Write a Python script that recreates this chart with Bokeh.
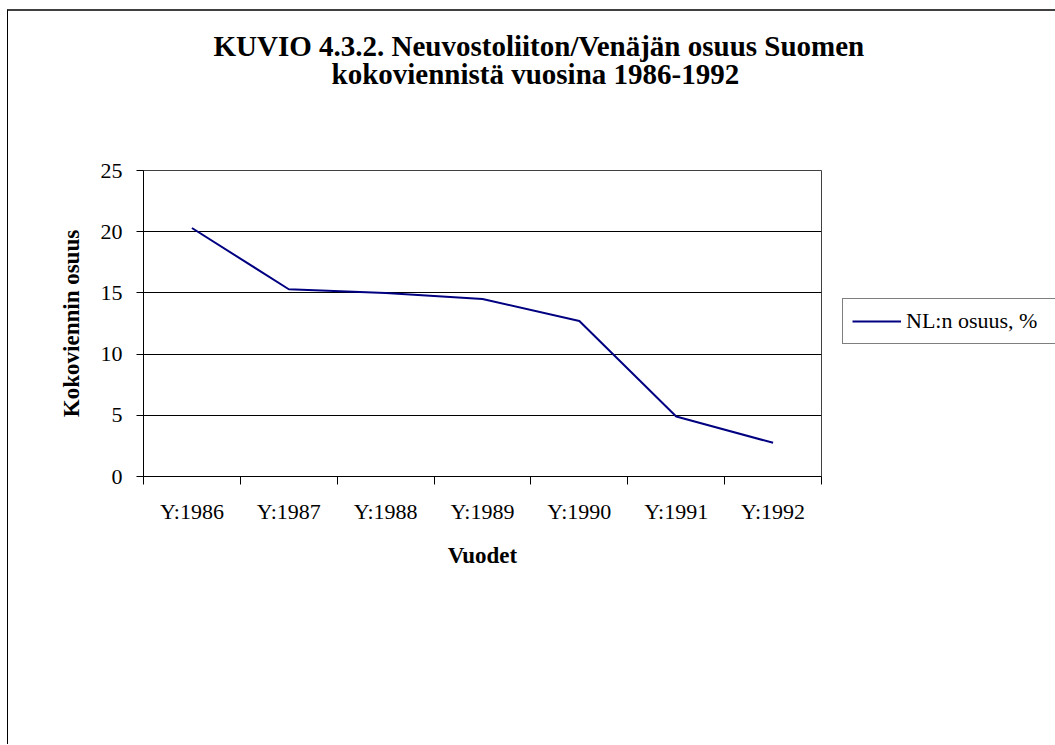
from bokeh.plotting import figure
from bokeh.models import (Range1d, FixedTicker, Title, Legend, LegendItem)
from bokeh.embed import file_html
from bokeh.resources import INLINE

# ---- data ----
years = ["Y:1986", "Y:1987", "Y:1988", "Y:1989", "Y:1990", "Y:1991", "Y:1992"]
share = [20.3, 15.3, 15.0, 14.5, 12.7, 4.9, 2.75]
y_ticks = [0, 5, 10, 15, 20, 25]
title_lines = ["KUVIO 4.3.2. Neuvostoliiton/Venäjän osuus Suomen",
               "kokoviennistä vuosina 1986-1992"]
x_title = "Vuodet"
y_title = "Kokoviennin osuus"
series_name = "NL:n osuus, %"

FONT = "Liberation Serif"

# category slots: centre of each category on a 0..N numeric axis
x_pos = [i + 0.5 for i in range(len(years))]

p = figure(frame_width=678, frame_height=306,
           output_backend="svg", toolbar_location=None,
           x_range=Range1d(0, len(years)), y_range=Range1d(0, 25),
           min_border_left=135, min_border_top=159,
           min_border_right=234, min_border_bottom=268)
p.styles = {"margin-left": "7px", "margin-top": "9px",
            "border-top": "2px solid #404040", "border-left": "1px solid #000000"}
p.background_fill_color = "white"
p.border_fill_color = "white"
p.outline_line_color = "#404040"
p.outline_line_width = 1

line = p.line(x_pos, share, line_color="#000080", line_width=2)

# x axis: labels at category centres, ticks at category boundaries
xa = p.xaxis[0]
xa.ticker = FixedTicker(ticks=x_pos, minor_ticks=list(range(len(years) + 1)))
xa.major_label_overrides = {x: y for x, y in zip(x_pos, years)}
xa.major_tick_out = 0
xa.major_tick_in = 0
xa.minor_tick_out = 8
xa.minor_tick_in = 0
xa.minor_tick_line_color = "black"
xa.axis_line_color = "black"
xa.major_label_text_font = FONT
xa.major_label_text_font_size = "22px"
xa.major_label_text_color = "black"
xa.major_label_standoff = 14
xa.axis_label = x_title
xa.axis_label_text_font = FONT
xa.axis_label_text_font_size = "23px"
xa.axis_label_text_font_style = "bold"
xa.axis_label_text_color = "black"
xa.axis_label_standoff = 16

ya = p.yaxis[0]
ya.ticker = FixedTicker(ticks=y_ticks)
ya.major_tick_out = 7
ya.major_tick_in = 0
ya.minor_tick_out = 0
ya.minor_tick_in = 0
ya.major_tick_line_color = "black"
ya.axis_line_color = "black"
ya.major_label_text_font = FONT
ya.major_label_text_font_size = "22px"
ya.major_label_text_color = "black"
ya.major_label_standoff = 14
ya.axis_label = y_title
ya.axis_label_text_font = FONT
ya.axis_label_text_font_size = "23px"
ya.axis_label_text_font_style = "bold"
ya.axis_label_text_color = "black"
ya.axis_label_standoff = 14

p.xgrid.grid_line_color = None
p.ygrid.ticker = FixedTicker(ticks=y_ticks)
p.ygrid.grid_line_color = "black"
p.ygrid.grid_line_width = 1

# title block: spacer nearest the frame, then line 2, then line 1
title_style = dict(text_font=FONT, text_font_size="29px",
                   text_font_style="bold", text_color="black")
p.add_layout(Title(text=" ", align="left", standoff=47, **title_style), "above")
p.add_layout(Title(text=title_lines[1], align="left", offset=188, standoff=0,
                   **title_style), "above")
p.add_layout(Title(text=title_lines[0], align="left", offset=70, standoff=-13,
                   **title_style), "above")

legend = Legend(items=[LegendItem(label=series_name, renderers=[line])],
                location=(21, 132), margin=0, padding=9, spacing=0,
                glyph_width=49, glyph_height=24, label_height=24,
                label_standoff=5, label_width=165,
                label_text_font=FONT, label_text_font_size="22px",
                label_text_color="black",
                border_line_color="black", border_line_width=1,
                background_fill_color="white")
p.add_layout(legend, "right")

open("out.html", "w").write(file_html(p, INLINE))
